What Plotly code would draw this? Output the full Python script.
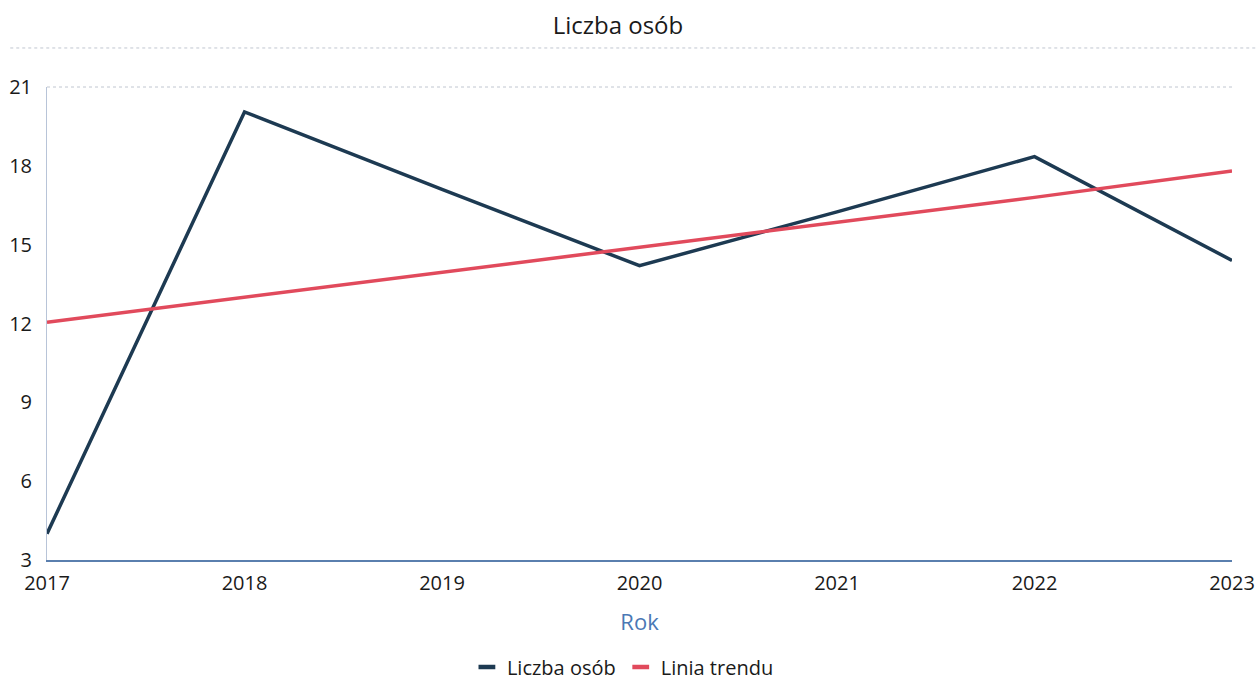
import plotly.graph_objects as go

# data
years = [2017, 2018, 2019, 2020, 2021, 2022, 2023]
liczba_osob = [4.0, 20.05, 17.1, 14.2, 16.25, 18.35, 14.4]
linia_trendu = [12.05, 13.0, 13.95, 14.9, 15.85, 16.8, 17.8]
y_ticks = [3, 6, 9, 12, 15, 18, 21]

navy = "#1d3a52"
red = "#e14a5c"

fig = go.Figure()

fig.add_trace(
    go.Scatter(
        x=years,
        y=liczba_osob,
        mode="lines",
        name="Liczba osób",
        line=dict(color=navy, width=3.5),
        showlegend=False,
    )
)

fig.add_trace(
    go.Scatter(
        x=years,
        y=linia_trendu,
        mode="lines",
        name="Linia trendu",
        line=dict(color=red, width=3.5),
        showlegend=False,
    )
)

# legend entries with short thick dashes
for name, color in [("Liczba osób", navy), ("Linia trendu", red)]:
    fig.add_trace(
        go.Scatter(
            x=[None],
            y=[None],
            mode="markers",
            name=name,
            marker=dict(symbol="line-ew", size=12, line=dict(color=color, width=4.5)),
        )
    )

# faint dotted rule above the plot and top border line
fig.add_shape(
    type="line", xref="paper", yref="paper",
    x0=-0.031, x1=1.02, y0=1.0825, y1=1.0825,
    line=dict(color="#c0c6d0", width=1, dash="dot"),
)
fig.add_shape(
    type="line", xref="paper", yref="paper",
    x0=0, x1=1, y0=1, y1=1,
    line=dict(color="#c0c6d0", width=1, dash="dot"),
)

fig.update_layout(
    width=1256,
    height=680,
    margin=dict(l=47, r=24, t=87, b=120),
    paper_bgcolor="white",
    plot_bgcolor="white",
    font=dict(family="Open Sans", size=20, color="#1a1a1a"),
    title=dict(text="Liczba osób", x=0.492, xanchor="center", y=0.963,
               yanchor="middle", font=dict(size=24, color="#1a1a1a")),
    showlegend=True,
    legend=dict(orientation="h", x=0.486, xanchor="center",
                yref="container", y=0.019, yanchor="middle",
                font=dict(size=20), itemwidth=30, tracegroupgap=0),
    xaxis=dict(
        range=[2017, 2023],
        tickmode="array",
        tickvals=years,
        ticktext=[str(y) for y in years],
        showgrid=False,
        zeroline=False,
        showline=True,
        linecolor="#5a7fae",
        linewidth=1.5,
        ticks="",
        ticklabelstandoff=4,
        automargin=False,
        tickfont=dict(size=20),
        title=dict(text="Rok", font=dict(size=22, color="#4a78b5"), standoff=20),
    ),
    yaxis=dict(
        range=[3, 21],
        tickmode="array",
        tickvals=y_ticks,
        showgrid=False,
        zeroline=False,
        showline=True,
        linecolor="#b8c4d8",
        linewidth=1,
        ticks="",
        ticklabelstandoff=10,
        automargin=False,
        tickfont=dict(size=20),
    ),
)

fig.write_html(
    "out.html",
    config={"displayModeBar": False},
    post_script="document.body.style.margin='0';",
)
